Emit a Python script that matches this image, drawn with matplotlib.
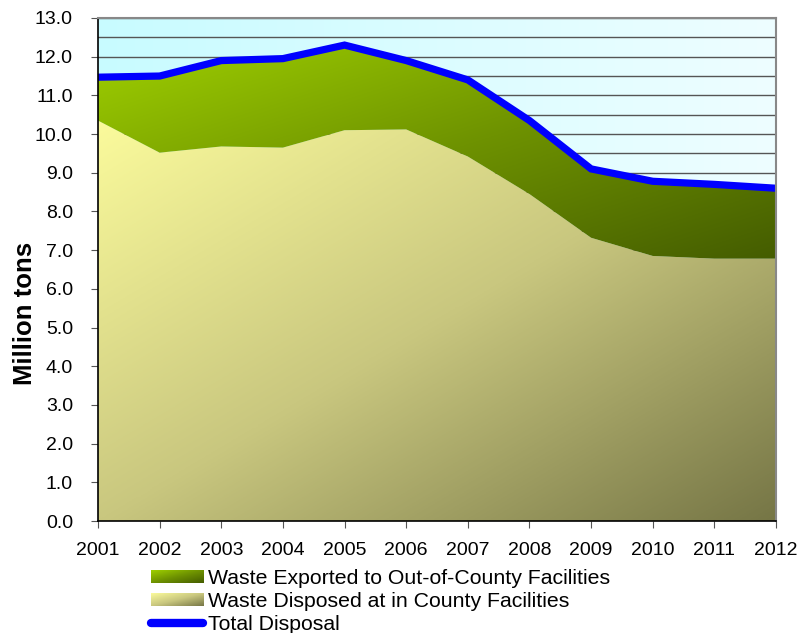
import numpy as np
import matplotlib
matplotlib.use("Agg")
import matplotlib.pyplot as plt
from matplotlib.colors import LinearSegmentedColormap
from matplotlib.legend_handler import HandlerBase
from matplotlib.image import BboxImage
from matplotlib.transforms import Bbox, TransformedBbox
from matplotlib.lines import Line2D
from matplotlib.patches import Patch

years = [2001, 2002, 2003, 2004, 2005, 2006, 2007, 2008, 2009, 2010, 2011, 2012]
in_county = [10.35, 9.52, 9.68, 9.65, 10.1, 10.12, 9.42, 8.45, 7.32, 6.85, 6.78, 6.78]
total = [11.47, 11.5, 11.9, 11.95, 12.3, 11.9, 11.4, 10.35, 9.1, 8.78, 8.7, 8.6]
labels = ["Waste Exported to Out-of-County Facilities",
          "Waste Disposed at in County Facilities",
          "Total Disposal"]

plt.rcParams['font.family'] = ['Liberation Sans', 'DejaVu Sans']

fig = plt.figure(figsize=(8.01, 6.33), dpi=100)
ax = fig.add_axes([98/801, 1-521/633, (776-98)/801, (521-18)/633])

x = np.arange(len(years))
ax.set_xlim(0, len(years)-1)
ax.set_ylim(0, 13)

# background gradient
bg = LinearSegmentedColormap.from_list("bg", ["#c8fbff", "#eefeff"])
grad_h = np.linspace(0, 1, 256).reshape(1, -1)
ax.imshow(grad_h, cmap=bg, aspect='auto', extent=(0, len(years)-1, 0, 13),
          origin='lower', zorder=0)

ax.yaxis.set_major_locator(plt.MultipleLocator(1))
ax.yaxis.set_minor_locator(plt.MultipleLocator(0.5))
ax.set_axisbelow(True)
ax.grid(True, which='both', axis='y', color='#555555', lw=1)

# diagonal gradient images
ny, nx = 300, 300
gx = np.linspace(0, 1, nx)[None, :]
gy = np.linspace(1, 0, ny)[:, None]
diag = (gx + (1 - gy)) / 2.0

cm_low = LinearSegmentedColormap.from_list("low", ["#fbfb9c", "#c9c77f", "#767646"])
cm_up = LinearSegmentedColormap.from_list("up", ["#9fd000", "#6e9200", "#445c00"])

poly_low = ax.fill_between(x, 0, in_county, color='none', lw=0)
poly_up = ax.fill_between(x, in_county, total, color='none', lw=0)

im_low = ax.imshow(diag, cmap=cm_low, aspect='auto',
                   extent=(0, len(years)-1, 0, 10.4), origin='upper', zorder=2)
im_low.set_clip_path(poly_low.get_paths()[0], transform=ax.transData)
im_up = ax.imshow(diag, cmap=cm_up, aspect='auto',
                  extent=(0, len(years)-1, 6.7, 12.3), origin='upper', zorder=2)
im_up.set_clip_path(poly_up.get_paths()[0], transform=ax.transData)

ax.plot(x, total, color='#0000ff', lw=5.2, zorder=4, clip_on=False,
        solid_joinstyle='miter', solid_capstyle='butt')

ax.set_xticks(x)
ax.set_xticklabels([str(y) for y in years])
ax.set_yticks(np.arange(0, 14, 1))
ax.set_yticklabels([f"{v:.1f}" for v in np.arange(0, 14, 1)])
ax.tick_params(axis='both', which='major', labelsize=14, direction='out',
               length=5, color='#555555', labelcolor='black')
ax.tick_params(axis='y', which='minor', length=0)
ax.tick_params(axis='x', pad=10)
ax.tick_params(axis='y', pad=13)
ax.set_ylabel("Million tons", fontsize=18.5, fontweight='bold')
ax.yaxis.set_label_coords((37-98)/678, 1-(313-18)/503)

for s in ['left', 'bottom']:
    ax.spines[s].set_color('black')
    ax.spines[s].set_linewidth(1.2)
for s in ['top', 'right']:
    ax.spines[s].set_color('#888888')
    ax.spines[s].set_linewidth(1.5)
for s in ax.spines.values():
    s.set_zorder(5)


class HandlerGrad(HandlerBase):
    def __init__(self, cmap):
        super().__init__()
        self.cmap = cmap

    def create_artists(self, legend, orig_handle, xdescent, ydescent,
                       width, height, fontsize, trans):
        bb = Bbox.from_bounds(-xdescent, -ydescent, width, height)
        tbb = TransformedBbox(bb, trans)
        img = BboxImage(tbb, cmap=self.cmap, interpolation='bilinear')
        img.set_data(diag)
        return [img]


h_up = Patch(label=labels[0])
h_low = Patch(label=labels[1])
h_line = Line2D([], [], color='#0000ff', lw=6, solid_capstyle='round', label=labels[2])
leg = fig.legend(handles=[h_up, h_low, h_line], labels=labels,
                 handler_map={h_up: HandlerGrad(cm_up), h_low: HandlerGrad(cm_low)},
                 loc='upper left', bbox_to_anchor=(151/801, 1-569/633),
                 frameon=False, fontsize=15.3, handlelength=2.45, handleheight=0.55,
                 handletextpad=0.24, labelspacing=0.18, borderaxespad=0,
                 borderpad=0)

fig.savefig("out.png", dpi=100)
